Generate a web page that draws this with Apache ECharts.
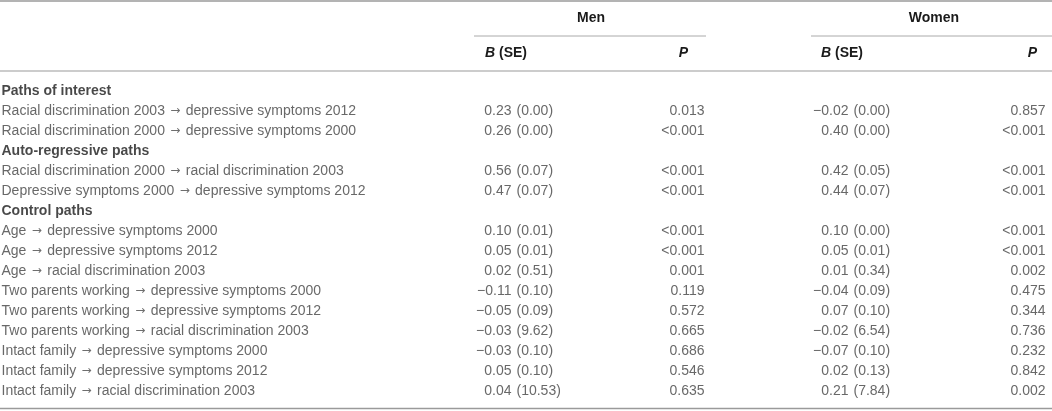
<!DOCTYPE html>
<html>
<head>
<meta charset="utf-8">
<script src="https://cdn.jsdelivr.net/npm/echarts@6/dist/echarts.min.js"></script>
<style>
html,body{margin:0;padding:0;background:#fff;}
#chart{width:1052px;height:411px;}
</style>
</head>
<body>
<div id="chart"></div>
<script>
const rowLabels = [
  'Paths of interest',
  'Racial discrimination 2003 \u2192 depressive symptoms 2012',
  'Racial discrimination 2000 \u2192 depressive symptoms 2000',
  'Auto-regressive paths',
  'Racial discrimination 2000 \u2192 racial discrimination 2003',
  'Depressive symptoms 2000 \u2192 depressive symptoms 2012',
  'Control paths',
  'Age \u2192 depressive symptoms 2000',
  'Age \u2192 depressive symptoms 2012',
  'Age \u2192 racial discrimination 2003',
  'Two parents working \u2192 depressive symptoms 2000',
  'Two parents working \u2192 depressive symptoms 2012',
  'Two parents working \u2192 racial discrimination 2003',
  'Intact family \u2192 depressive symptoms 2000',
  'Intact family \u2192 depressive symptoms 2012',
  'Intact family \u2192 racial discrimination 2003'
];
const groupRows = [0, 3, 6];
const menB    = ['', '0.23', '0.26', '', '0.56', '0.47', '', '0.10', '0.05', '0.02', '\u22120.11', '\u22120.05', '\u22120.03', '\u22120.03', '0.05', '0.04'];
const menSE   = ['', '0.00', '0.00', '', '0.07', '0.07', '', '0.01', '0.01', '0.51', '0.10', '0.09', '9.62', '0.10', '0.10', '10.53'];
const menP    = ['', '0.013', '<0.001', '', '<0.001', '<0.001', '', '<0.001', '<0.001', '0.001', '0.119', '0.572', '0.665', '0.686', '0.546', '0.635'];
const womenB  = ['', '\u22120.02', '0.40', '', '0.42', '0.44', '', '0.10', '0.05', '0.01', '\u22120.04', '0.07', '\u22120.02', '\u22120.07', '0.02', '0.21'];
const womenSE = ['', '0.00', '0.00', '', '0.05', '0.07', '', '0.00', '0.01', '0.34', '0.09', '0.10', '6.54', '0.10', '0.13', '7.84'];
const womenP  = ['', '0.857', '<0.001', '', '<0.001', '<0.001', '', '<0.001', '<0.001', '0.002', '0.475', '0.344', '0.736', '0.232', '0.842', '0.002'];

const FONT = 'Liberation Sans';
const TXT = '#424242';
const HDR = '#1a1a1a';
const FS = 14;

// column anchors (layout)
const colX = { label: 1, menB: 512, menP: 705, womenB: 849, womenP: 1046 };

const chart = echarts.init(document.getElementById('chart'), null, {renderer: 'canvas'});

function textSeries(name, vals, x, pos, fmt, extra) {
  const data = [];
  vals.forEach((v, i) => {
    if (v === '') return;
    const item = { value: [x, i], name: fmt(v) };
    if (extra) Object.assign(item, extra(i));
    data.push(item);
  });
  return {
    type: 'scatter', name, symbolSize: 1, itemStyle: {color: 'rgba(0,0,0,0)'},
    silent: true, animation: false,
    label: {
      show: true, position: pos, distance: 0,
      formatter: p => p.name.replace(/\u2192/g, '{a|\u2192}'),
      fontFamily: FONT, fontSize: FS, color: TXT,
      rich: { a: { fontFamily: 'DejaVu Sans', fontSize: 12, fontWeight: 'normal', color: '#4a4a4a', padding: [0, 1.5, 0, 1.5] } }
    },
    data
  };
}

const option = {
  backgroundColor: '#fff',
  animation: false,
  grid: { left: 0, right: 0, top: 81, height: 320, containLabel: false },
  xAxis: { type: 'value', min: 0, max: 1052, show: false },
  yAxis: { type: 'category', data: rowLabels, inverse: true, show: false },
  series: [
    textSeries('labels', rowLabels, colX.label, 'right', v => v, i => groupRows.includes(i) ? { label: { fontWeight: 'bold', color: HDR } } : {}),
    textSeries('menB', menB, colX.menB, 'left', v => v),
    textSeries('menSE', menSE, colX.menB + 4, 'right', v => '(' + v + ')'),
    textSeries('menP', menP, colX.menP, 'left', v => v),
    textSeries('womenB', womenB, colX.womenB, 'left', v => v),
    textSeries('womenSE', womenSE, colX.womenB + 4, 'right', v => '(' + v + ')'),
    textSeries('womenP', womenP, colX.womenP, 'left', v => v)
  ],
  graphic: [
    { type: 'line', shape: { x1: 0, y1: 1, x2: 1052, y2: 1 }, style: { stroke: '#9a9a9a', lineWidth: 1.5 } },
    { type: 'line', shape: { x1: 474, y1: 36, x2: 706, y2: 36 }, style: { stroke: '#aaaaaa', lineWidth: 1 } },
    { type: 'line', shape: { x1: 811, y1: 36, x2: 1052, y2: 36 }, style: { stroke: '#aaaaaa', lineWidth: 1 } },
    { type: 'line', shape: { x1: 0, y1: 71, x2: 1052, y2: 71 }, style: { stroke: '#9a9a9a', lineWidth: 1.2 } },
    { type: 'line', shape: { x1: 0, y1: 408.5, x2: 1052, y2: 408.5 }, style: { stroke: '#9a9a9a', lineWidth: 1.5 } },
    { type: 'text', x: 591, y: 18, style: { text: 'Men', fill: HDR, font: 'bold 14px "' + FONT + '"', align: 'center', verticalAlign: 'middle' } },
    { type: 'text', x: 934, y: 18, style: { text: 'Women', fill: HDR, font: 'bold 14px "' + FONT + '"', align: 'center', verticalAlign: 'middle' } },
    { type: 'text', x: 485, y: 53, style: { text: '{i|B} (SE)', fill: HDR, font: 'bold 14px "' + FONT + '"', align: 'left', verticalAlign: 'middle',
        rich: { i: { fontStyle: 'italic', fontWeight: 'bold', fontFamily: FONT, fontSize: 14, fill: HDR } } } },
    { type: 'text', x: 688, y: 53, style: { text: 'P', fill: HDR, font: 'italic bold 14px "' + FONT + '"', align: 'right', verticalAlign: 'middle' } },
    { type: 'text', x: 821, y: 53, style: { text: '{i|B} (SE)', fill: HDR, font: 'bold 14px "' + FONT + '"', align: 'left', verticalAlign: 'middle',
        rich: { i: { fontStyle: 'italic', fontWeight: 'bold', fontFamily: FONT, fontSize: 14, fill: HDR } } } },
    { type: 'text', x: 1037, y: 53, style: { text: 'P', fill: HDR, font: 'italic bold 14px "' + FONT + '"', align: 'right', verticalAlign: 'middle' } }
  ]
};
chart.setOption(option);
</script>
</body>
</html>
